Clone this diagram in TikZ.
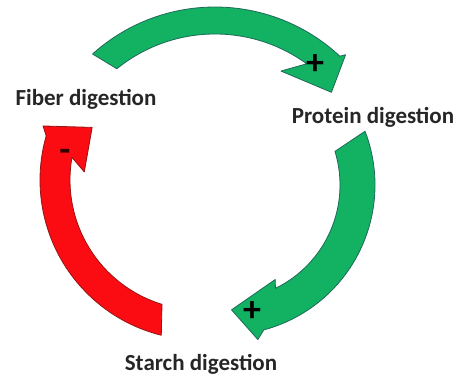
\documentclass[tikz,border=0pt]{standalone}
\usepackage{fontspec}
\setmainfont{Carlito}
\definecolor{leafgreen}{RGB}{18,178,98}
\definecolor{darkteal}{RGB}{30,105,90}
\definecolor{brightred}{RGB}{250,12,18}
\definecolor{darkred}{RGB}{150,20,20}
\colorlet{labelgray}{black!85}
\usetikzlibrary{positioning}

\begin{document}
\begin{tikzpicture}[x=1pt, y=1pt,
    lbl/.style={font=\fontsize{23}{27}\selectfont\bfseries, text=labelgray,
      inner sep=0pt, anchor=base},
    sign/.style={font=\fontsize{36}{36}\selectfont\bfseries, inner sep=0pt},
    greenarrow/.style={fill=leafgreen, draw=darkteal, line width=0.8pt, line join=round},
    redarrow/.style={fill=brightred, draw=darkred, line width=0.8pt, line join=round},
  ]
    \useasboundingbox (0,0) rectangle (463,381);
    \coordinate (ctop) at (215,191);
    \coordinate (cright) at (225,196);
    \coordinate (cleft) at (200,201);

    \node[lbl] (fiber) at (86,276) {Fiber digestion};
    \node[lbl] (protein) at (373,258) {Protein digestion};
    \node[lbl] (starch) at (201,11) {Starch digestion};

    % fiber -> protein
    \begin{scope}[shift={(ctop)}]
      \draw[greenarrow] (132:183) arc[start angle=132, end angle=47, radius=183]
        -- (46:188) -- (40:152) -- (61:136) -- (54:156)
        arc[start angle=54, end angle=129, radius=156] -- cycle;
    \end{scope}
    % protein -> starch
    \begin{scope}[shift={(cright)}]
      \draw[greenarrow] (21:150) arc[start angle=21, end angle=-75, radius=150]
        -- (-78:158) -- (-87:125) -- (-62:107) -- (-64:115)
        arc[start angle=-64, end angle=17, radius=115] -- cycle;
    \end{scope}
    % starch -> fiber
    \begin{scope}[shift={(cleft)}]
      \draw[redarrow] (256:160) arc[start angle=256, end angle=164, radius=160]
        -- (161:166) -- (154:120) -- (176:116) -- (170:130)
        arc[start angle=170, end angle=253, radius=130] -- cycle;
    \end{scope}

    \node[sign] (plustop) at (315,316) {+};
    \node[sign] (plusright) at (252,69) {+};
    \node[sign, text=black!80!red] (minusleft) at (65,226) {-};
  \end{tikzpicture}
\end{document}
